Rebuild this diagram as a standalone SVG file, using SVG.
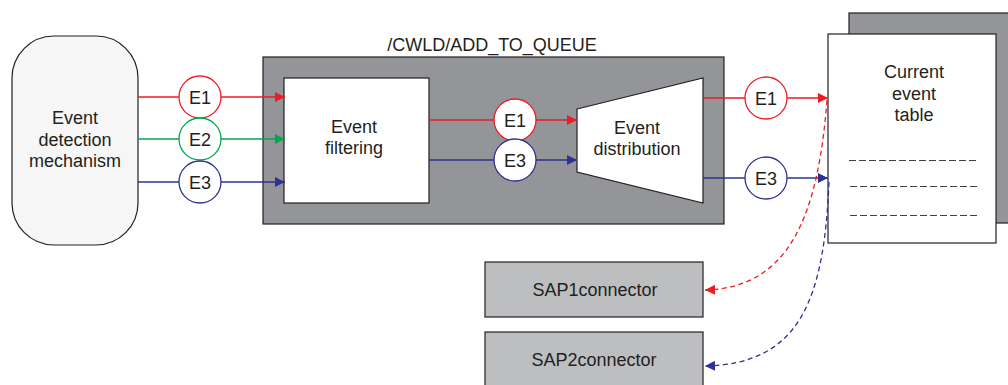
<svg xmlns="http://www.w3.org/2000/svg" width="1008" height="385" viewBox="0 0 1008 385">
<style>
text{font-family:"Liberation Sans",Arial,sans-serif;fill:#231f20;text-anchor:middle}
.t{font-size:18px}
.box{stroke:#231f20;stroke-width:1.2}
.r{stroke:#ed1c24;fill:none;stroke-width:1.3}
.g{stroke:#00a651;fill:none;stroke-width:1.3}
.b{stroke:#2e3192;fill:none;stroke-width:1.3}
.cr{stroke:#ed1c24;fill:#fff;stroke-width:1.3}
.cg{stroke:#00a651;fill:#fff;stroke-width:1.3}
.cb{stroke:#2e3192;fill:#fff;stroke-width:1.3}
.d{stroke-dasharray:5,3.5}
</style>
<defs>
<marker id="ar" markerWidth="10" markerHeight="10" refX="10" refY="5" orient="auto" markerUnits="userSpaceOnUse"><path d="M0,0L10,5L0,10z" fill="#ed1c24"/></marker>
<marker id="ag" markerWidth="10" markerHeight="10" refX="10" refY="5" orient="auto" markerUnits="userSpaceOnUse"><path d="M0,0L10,5L0,10z" fill="#00a651"/></marker>
<marker id="ab" markerWidth="10" markerHeight="10" refX="10" refY="5" orient="auto" markerUnits="userSpaceOnUse"><path d="M0,0L10,5L0,10z" fill="#2e3192"/></marker>
</defs>

<g id="detection">
<rect class="box" x="12" y="36" width="126" height="209" rx="42" ry="42" fill="#f6f6f6"/>
<text class="t" x="75" y="124">Event</text>
<text class="t" x="75" y="146">detection</text>
<text class="t" x="75" y="167">mechanism</text>
</g>

<g id="add_to_queue">
<text class="t" x="492" y="51">/CWLD/ADD_TO_QUEUE</text>
<rect class="box" x="263" y="57" width="461" height="167" fill="#939598"/>
</g>

<g id="table">
<rect class="box" x="849" y="13" width="165" height="210" fill="#939598"/>
<rect class="box" x="828" y="34" width="168" height="209" fill="#fff"/>
<text class="t" x="914" y="78">Current</text>
<text class="t" x="914" y="100">event</text>
<text class="t" x="914" y="121">table</text>
<g stroke="#414042" stroke-width="1" stroke-dasharray="7,3">
<line x1="849" y1="160.5" x2="976" y2="160.5"/>
<line x1="850" y1="186.5" x2="977" y2="186.5"/>
<line x1="850" y1="215.5" x2="977" y2="215.5"/>
</g>
</g>

<g id="filtering">
<rect class="box" x="284" y="78" width="145" height="125" fill="#fff"/>
<text class="t" x="354" y="133">Event</text>
<text class="t" x="354" y="154">filtering</text>
</g>

<g id="distribution">
<path class="box" d="M577,109L703,78L703,203L577,172Z" fill="#fff"/>
<text class="t" x="637" y="134">Event</text>
<text class="t" x="637" y="155">distribution</text>
</g>

<g id="sap1">
<rect class="box" x="485" y="262" width="218" height="55" fill="#bcbec0"/>
<text class="t" x="595" y="296">SAP1connector</text>
</g>
<g id="sap2">
<rect class="box" x="485" y="332" width="218" height="60" fill="#bcbec0"/>
<text class="t" x="594" y="366">SAP2connector</text>
</g>

<g id="connectors">
<line class="r" x1="138" y1="97" x2="285" y2="97" marker-end="url(#ar)"/>
<line class="g" x1="138" y1="139" x2="285" y2="139" marker-end="url(#ag)"/>
<line class="b" x1="138" y1="182" x2="285" y2="182" marker-end="url(#ab)"/>
<line class="r" x1="429" y1="120" x2="577" y2="120" marker-end="url(#ar)"/>
<line class="b" x1="429" y1="160" x2="577" y2="160" marker-end="url(#ab)"/>
<line class="r" x1="703" y1="98" x2="828" y2="98" marker-end="url(#ar)"/>
<line class="b" x1="703" y1="178" x2="828" y2="178" marker-end="url(#ab)"/>
<path class="r d" d="M827,100C818,215 790,288 705,290" marker-end="url(#ar)"/>
<path class="b d" d="M829,182C824,300 800,364 705,366" marker-end="url(#ab)"/>
<circle class="cr" cx="200" cy="97" r="21"/><text class="t" x="200" y="103.5">E1</text>
<circle class="cg" cx="200" cy="139" r="21"/><text class="t" x="200" y="145.5">E2</text>
<circle class="cb" cx="200" cy="182" r="21"/><text class="t" x="200" y="188.5">E3</text>
<circle class="cr" cx="515" cy="120" r="21"/><text class="t" x="515" y="126.5">E1</text>
<circle class="cb" cx="515" cy="160" r="21"/><text class="t" x="515" y="166.5">E3</text>
<circle class="cr" cx="766" cy="98" r="21"/><text class="t" x="766" y="104.5">E1</text>
<circle class="cb" cx="766" cy="178" r="21"/><text class="t" x="766" y="184.5">E3</text>
</g>
</svg>
